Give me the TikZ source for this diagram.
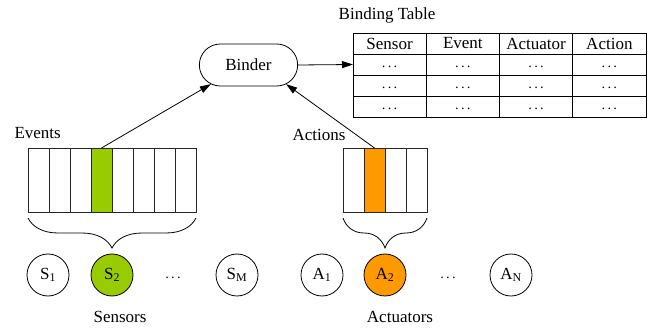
\documentclass[tikz,border=0pt]{standalone}
\usepackage{fontspec}
\setmainfont{Liberation Serif}
\usetikzlibrary{shapes.misc,arrows.meta,decorations.pathreplacing}
\definecolor{sgreen}{HTML}{99CC00}
\definecolor{aorange}{HTML}{FF9900}
\newcommand{\mydots}{\raisebox{-7.5pt}[0pt][0pt]{\textperiodcentered\kern1.2pt\textperiodcentered\kern1.2pt\textperiodcentered}}
\begin{document}
\begin{tikzpicture}[x=1pt,y=-1pt, font=\fontsize{17}{20}\selectfont,
  cellbox/.style={draw=black!85, line width=0.8pt, minimum width=21pt, minimum height=64pt, inner sep=0pt, outer sep=0pt},
  tcell/.style={draw, line width=0.8pt, minimum width=73.25pt, minimum height=21pt, inner sep=0pt, outer sep=0pt},
  dev/.style={circle, draw, line width=0.8pt, minimum size=42pt, inner sep=0pt},
  conn/.style={line width=0.8pt, -{Triangle[length=11pt,width=7pt]}},
  bracestyle/.style={decorate, decoration={brace, mirror, amplitude=30pt}, line width=0.8pt},
  dotsl/.style={font=\fontsize{14}{14}\selectfont}
]
\useasboundingbox (0,0) rectangle (650,328);
% event cells
\foreach \i/\f in {1/white,2/white,3/white,4/sgreen,5/white,6/white,7/white,8/white}
  \node[cellbox, fill=\f] (e\i) at ({28+21*(\i-0.5)},180) {};
% action cells
\foreach \i/\f in {1/white,2/aorange,3/white,4/white}
  \node[cellbox, fill=\f] (a\i) at ({343+21*(\i-0.5)},180) {};
% binder
\node[rounded rectangle, draw, line width=0.8pt, minimum width=105pt, minimum height=42pt] (binder) at (248.5,65) {Binder};
% table
\foreach \c/\t in {1/Sensor,2/Event,3/Actuator,4/Action}
  \node[tcell] (t1\c) at ({353+73.25*(\c-0.5)},43.5) {\t};
\foreach \r in {2,3,4}
  \foreach \c in {1,2,3,4}
    \node[tcell, dotsl] (t\r\c) at ({353+73.25*(\c-0.5)},{33+21*(\r-0.5)}) {\mydots};
\node (bt) at (387,15) {Binding Table};
% labels
\node[anchor=west] (evl) at (11,133) {Events};
\node (acl) at (319,135) {Actions};
\node (sl) at (120,317) {Sensors};
\node (al) at (400,317) {Actuators};
% devices
\node[dev] (s1) at (48,275) {S\textsubscript{1}};
\node[dev, fill=sgreen] (s2) at (112,275) {S\textsubscript{2}};
\node[dotsl] (sd) at (173,275) {\mydots};
\node[dev] (sm) at (237,275) {S\textsubscript{M}};
\node[dev] (a1n) at (322,275) {A\textsubscript{1}};
\node[dev, fill=aorange] (a2n) at (385,275) {A\textsubscript{2}};
\node[dotsl] (ad) at (448,275) {\mydots};
\node[dev] (an) at (511,275) {A\textsubscript{N}};
% braces
\coordinate (eb1) at (28,218);
\coordinate (eb2) at (196,218);
\coordinate (ab1) at (343,218);
\coordinate (ab2) at (427,218);
\draw[bracestyle] (eb1) -- (eb2);
\draw[bracestyle] (ab1) -- (ab2);
% connectors
\draw[conn] (binder.east) -- (t21.west);
\draw[conn] (e4.north) -- (binder.-153);
\draw[conn] (a2.north) -- (binder.-27);
\end{tikzpicture}
\end{document}
